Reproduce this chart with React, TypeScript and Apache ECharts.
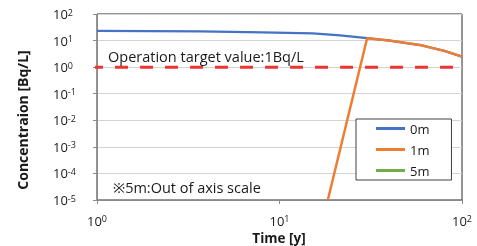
import React, { useEffect, useRef } from "react";
import * as echarts from "echarts";

const FONT = "'Open Sans', 'Noto Sans', 'Noto Sans CJK JP', sans-serif";

const seriesNames = ["0m", "1m", "5m"];
const seriesColors = ["#4472C4", "#ED7D31", "#70AD47"];

// [time (y), concentration (Bq/L)]
const data0m: [number, number][] = [
  [1, 23], [3.7, 22.3], [8, 20.5], [15.2, 18.7], [21.5, 15.8], [30.2, 12.3],
  [40, 10], [58.9, 6.8], [80, 4.1], [100, 2.48],
];
const data1m: [number, number][] = [
  [18.4, 1e-5], [30.2, 12.3], [40, 10], [58.9, 6.8], [80, 4.1], [100, 2.48],
];
const data5m: [number, number][] = [];

const targetValue = 1;
const targetRange: [number, number] = [0.916, 92.7];

const xMin = 1;
const xMax = 100;
const yMin = 1e-5;
const yMax = 100;

const targetLabel = "Operation target value:1Bq/L";
const noteLabel = "※5m:Out of axis scale";
const yName = "Concentraion [Bq/L]";
const xName = "Time [y]";

const powLabel = (v: number) => {
  const e = Math.round(Math.log10(v));
  return `{b|10}{s|${e}}`;
};

const richPow = {
  b: { fontSize: 13, fontFamily: FONT, color: "#1a1a1a", lineHeight: 13, verticalAlign: "middle" },
  s: { fontSize: 9, fontFamily: FONT, color: "#1a1a1a", lineHeight: 7, verticalAlign: "top" },
};

export default function App() {
  const ref = useRef<HTMLDivElement>(null);
  useEffect(() => {
    if (!ref.current) return;
    const chart = echarts.init(ref.current, undefined, { renderer: "svg" });
    const widths = [2.25, 2.5, 2.5];
    const lineSeries = [data0m, data1m, data5m].map((d, i) => ({
      name: seriesNames[i],
      type: "line",
      data: d,
      showSymbol: false,
      symbol: "none",
      smooth: false,
      lineStyle: { color: seriesColors[i], width: widths[i] },
      itemStyle: { color: seriesColors[i] },
      clip: true,
      z: 3 + i,
    }));
    chart.setOption({
      animation: false,
      grid: {
        left: 97, top: 14, right: 15, bottom: 46,
        show: true, borderColor: "#2b2b2b", borderWidth: 1, backgroundColor: "transparent",
      },
      xAxis: {
        type: "log", logBase: 10, min: xMin, max: xMax,
        axisLine: { lineStyle: { color: "#8a8a8a", width: 1 } },
        axisTick: { show: true, length: 4, inside: false, lineStyle: { color: "#8a8a8a" } },
        splitLine: { show: false },
        minorTick: { show: false },
        axisLabel: { formatter: powLabel, rich: richPow, margin: 14 },
      },
      yAxis: {
        type: "log", logBase: 10, min: yMin, max: yMax,
        axisLine: { show: true, lineStyle: { color: "#8a8a8a", width: 1 } },
        axisTick: { show: true, length: 4, inside: false, lineStyle: { color: "#8a8a8a" } },
        splitLine: { show: true, lineStyle: { color: "#d4d4d4", width: 1 } },
        axisLabel: { formatter: powLabel, rich: richPow, margin: 44, align: "left" },
      },
      legend: {
        data: seriesNames,
        orient: "vertical",
        left: 356,
        top: 119,
        icon: "rect",
        itemWidth: 29,
        itemHeight: 3,
        itemGap: 6,
        padding: [2, 22, 2, 20],
        backgroundColor: "#ffffff",
        borderColor: "#404040",
        borderWidth: 1,
        borderRadius: 0,
        textStyle: { fontFamily: FONT, fontSize: 13, color: "#1a1a1a", lineHeight: 15 },
      },
      graphic: [
        {
          type: "text", x: 108, y: 56,
          style: { text: targetLabel, font: `14.5px ${FONT}`, fill: "#1a1a1a", textVerticalAlign: "middle" },
          z: 10,
        },
        {
          type: "text", x: 113, y: 187,
          style: { text: noteLabel, font: `14.5px ${FONT}`, fill: "#1a1a1a", textVerticalAlign: "middle" },
          z: 10,
        },
        {
          type: "text", x: 22, y: 120, rotation: Math.PI / 2,
          style: { text: yName, font: `bold 14px ${FONT}`, fill: "#1a1a1a", textAlign: "center", textVerticalAlign: "middle" },
          z: 10,
        },
        {
          type: "text", x: 279, y: 238,
          style: { text: xName, font: `bold 13.5px ${FONT}`, fill: "#1a1a1a", textAlign: "center", textVerticalAlign: "middle" },
          z: 10,
        },
      ],
      series: [
        {
          name: "target",
          type: "line",
          data: [[targetRange[0], targetValue], [targetRange[1], targetValue]],
          showSymbol: false,
          symbol: "none",
          clip: false,
          lineStyle: { color: "#ee3333", width: 3, type: [13, 12] },
          z: 2,
        },
        ...lineSeries,
      ],
    });
    return () => chart.dispose();
  }, []);
  return <div ref={ref} style={{ position: "fixed", left: 0, top: 0, width: 477, height: 246 }} />;
}
